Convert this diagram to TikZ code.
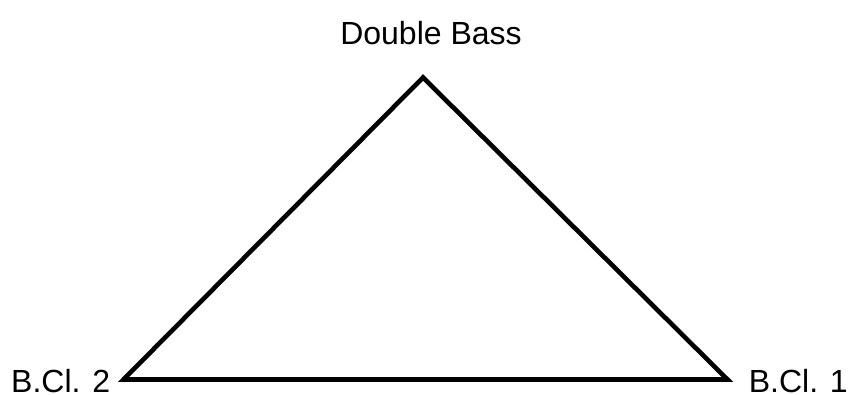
\documentclass[tikz,border=0pt]{standalone}
\usepackage{fontspec}
\setmainfont{Liberation Sans}
\begin{document}
\begin{tikzpicture}[x=1pt,y=-1pt,
  lbl/.style={inner sep=0pt,text depth=0pt,font=\fontsize{32}{36}\selectfont},
  edge/.style={line width=4.6pt,line join=miter,black}]
\useasboundingbox (0,0) rectangle (851,395);
\coordinate (top) at (423,77.5);
\coordinate (bl) at (123.5,379.5);
\coordinate (br) at (727.5,379.5);
\draw[edge] (top) -- (br) -- (bl) -- cycle;
\node[lbl,anchor=base] (db) at (431,45) {Double Bass};
\node[lbl,anchor=base west] (b2) at (11,392) {B.Cl. 2};
\node[lbl,anchor=base east] (b1) at (848,392) {B.Cl. 1};
\end{tikzpicture}
\end{document}
